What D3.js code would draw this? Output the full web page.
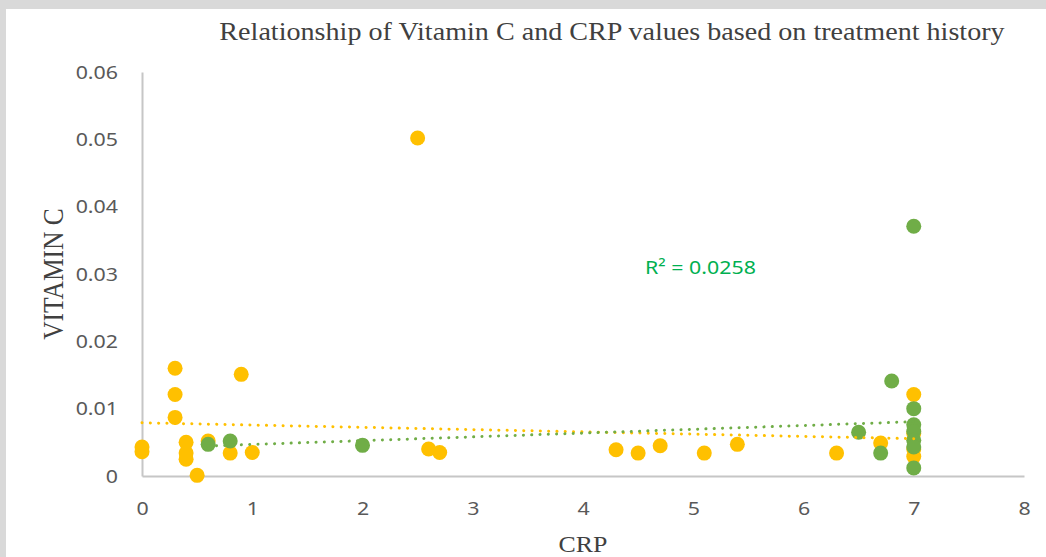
<!DOCTYPE html>
<html>
<head>
<meta charset="utf-8">
<script src="https://cdn.jsdelivr.net/npm/d3@7"></script>
<style>
  body { margin: 0; }
  svg { display: block; }
</style>
</head>
<body>
<svg width="1046" height="557"></svg>
<script>
// yellow series (CRP, vitamin C)
const yellowCrp = [0, 0, 0.3, 0.3, 0.3, 0.4, 0.4, 0.4, 0.5, 0.6, 0.8, 0.9, 1, 2.5, 2.6, 2.7, 4.3, 4.5, 4.7, 5.1, 5.4, 6.3, 6.7, 7, 7, 7, 7];
const yellowVitC = [0.0043, 0.0036, 0.016, 0.0121, 0.0087, 0.005, 0.0034, 0.0025, 0.0001, 0.0052, 0.0034, 0.0151, 0.0035, 0.0502, 0.004, 0.0035, 0.0039, 0.0034, 0.0045, 0.0034, 0.0047, 0.0034, 0.0049, 0.0121, 0.0063, 0.004, 0.0029];
// green series
const greenCrp = [0.6, 0.8, 2, 6.5, 6.7, 6.8, 7, 7, 7, 7, 7, 7, 7];
const greenVitC = [0.0047, 0.0052, 0.00455, 0.0065, 0.0034, 0.0141, 0.0371, 0.0100, 0.0076, 0.0066, 0.0053, 0.0043, 0.0012];

// trendline end points
const yellowTrendCrp = [0, 7];
const yellowTrendVitC = [0.0079, 0.00554];
const greenTrendCrp = [0.6, 7];
const greenTrendVitC = [0.00446, 0.00806];

const xTicks = [0, 1, 2, 3, 4, 5, 6, 7, 8];
const yTicks = [0, 0.01, 0.02, 0.03, 0.04, 0.05, 0.06];
const rSquaredLabel = "R² = 0.0258";

const svg = d3.select("svg"),
  width = +svg.attr("width"),
  height = +svg.attr("height");

const stretch = 1.125; // text in the picture is a bit wider than normal

// frame
svg.append("rect").attr("width", width).attr("height", height).style("fill", "#d9d9d9")
svg.append("rect").attr("x", 6).attr("y", 9).attr("width", width - 6).attr("height", height - 9).style("fill", "#fff")

const x = d3.scaleLinear().domain([0, 8]).range([142, 1024]);
const y = d3.scaleLinear().domain([0, 0.06]).range([476, 72]);

// axes
const xAxis = svg.append("g").attr("transform", "translate(0,476)")
  .call(d3.axisBottom(x).tickValues(xTicks).tickSize(0).tickPadding(26).tickFormat(d3.format("d")));
const yAxis = svg.append("g").attr("transform", "translate(142,0)")
  .call(d3.axisLeft(y).tickValues(yTicks).tickSize(0).tickPadding(21.3).tickFormat(d => d === 0 ? "0" : d.toFixed(2)));

[xAxis, yAxis].forEach(a => {
  a.select(".domain").style("stroke", "#c6c6c6").style("stroke-width", 2);
  a.selectAll("text")
    .attr("transform", `scale(${stretch},1)`)
    .style("font-family", "'Noto Sans', sans-serif").style("font-size", "19px").style("fill", "#595959");
});

// titles
svg.append("text").attr("transform", `translate(612,39.5) scale(${stretch},1)`).attr("text-anchor", "middle")
  .text("Relationship of Vitamin C and CRP values based on treatment history")
  .style("font-family", "'Liberation Serif', serif").style("font-size", "25px").style("fill", "#404040")
svg.append("text").attr("transform", `translate(583,552) scale(${stretch},1)`).attr("text-anchor", "middle")
  .text("CRP")
  .style("font-family", "'Liberation Serif', serif").style("font-size", "23px").style("fill", "#404040")
svg.append("text").attr("transform", `translate(63,274) scale(${stretch},1) rotate(-90)`).attr("text-anchor", "middle")
  .text("VITAMIN C")
  .style("font-family", "'Liberation Serif', serif").style("font-size", "25.5px").style("fill", "#404040")

const yellow = yellowCrp.map((c, i) => ({ crp: c, vit: yellowVitC[i] }));
const green = greenCrp.map((c, i) => ({ crp: c, vit: greenVitC[i] }));

function drawPoints(data, color) {
  svg.append("g").selectAll("circle")
    .data(data)
    .join("circle")
    .attr("cx", d => x(d.crp))
    .attr("cy", d => y(d.vit))
    .attr("r", 7.5)
    .style("fill", color)
}
drawPoints(yellow, "#ffc000")
drawPoints(green, "#70ad47")

function trend(xs, ys, color) {
  svg.append("path")
    .datum(xs.map((c, i) => [c, ys[i]]))
    .attr("d", d3.line().x(d => x(d[0])).y(d => y(d[1])))
    .style("fill", "none")
    .style("stroke", color)
    .style("stroke-width", 3)
    .style("stroke-linecap", "round")
    .style("stroke-dasharray", "0.1 8.2")
}
trend(yellowTrendCrp, yellowTrendVitC, "#ffc000")
trend(greenTrendCrp, greenTrendVitC, "#70ad47")

svg.append("text").attr("transform", `translate(645,274) scale(${stretch},1)`).text(rSquaredLabel)
  .style("font-family", "'Noto Sans', sans-serif").style("font-size", "19px").style("fill", "#00b050")
</script>
</body>
</html>
